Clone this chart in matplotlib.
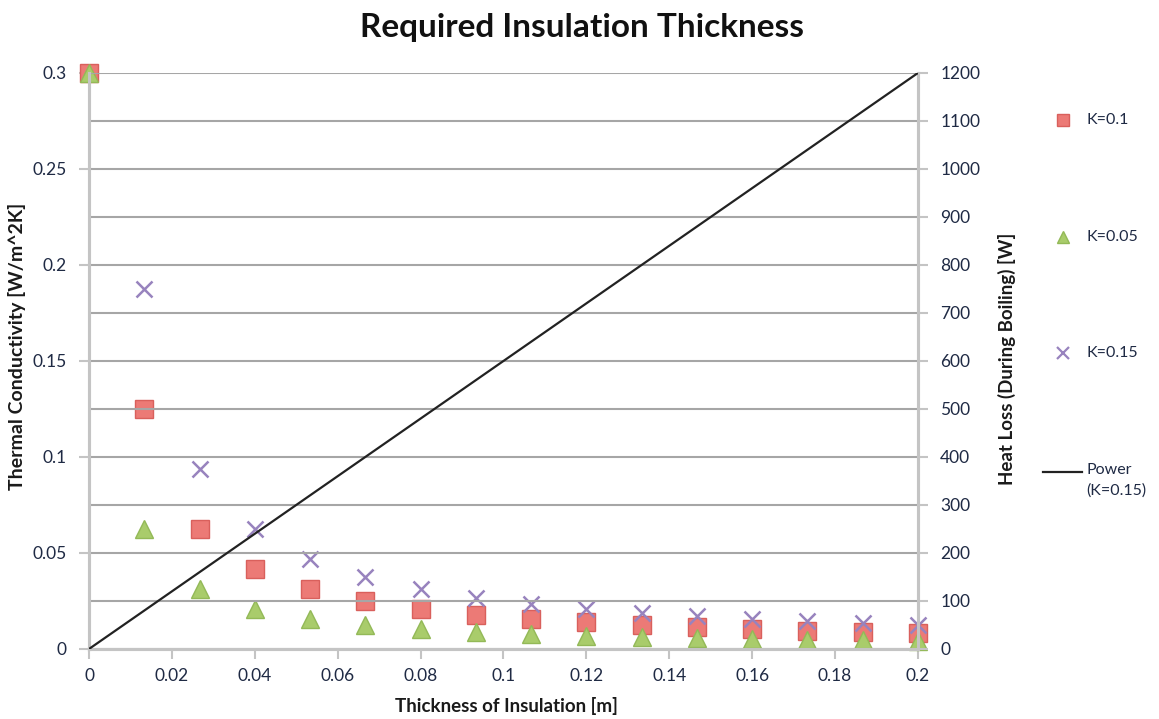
import matplotlib
matplotlib.use("Agg")
import matplotlib.pyplot as plt
from matplotlib.lines import Line2D

plt.rcParams['font.family'] = ['Lato', 'DejaVu Sans']

# Insulation thickness samples [m]
thickness = [0.0, 0.01333, 0.02667, 0.04, 0.05333, 0.06667, 0.08, 0.09333,
             0.10667, 0.12, 0.13333, 0.14667, 0.16, 0.17333, 0.18667, 0.2]

# Thermal conductivity readings [W/m^2K] per insulation material
k_010 = [0.3, 0.125, 0.0625, 0.0417, 0.03125, 0.025, 0.0208, 0.0179,
         0.0156, 0.0139, 0.0125, 0.0114, 0.0104, 0.0096, 0.0089, 0.0083]
k_005 = [0.3, 0.0625, 0.03125, 0.0208, 0.0156, 0.0125, 0.0104, 0.0089,
         0.0078, 0.0069, 0.00625, 0.0057, 0.0052, 0.0048, 0.0045, 0.0042]
k_015 = [float('nan'), 0.1875, 0.09375, 0.0625, 0.0469, 0.0375, 0.03125, 0.0268,
         0.0234, 0.0208, 0.01875, 0.0170, 0.0156, 0.0144, 0.0134, 0.0125]

# Heat loss trend (right axis) [W]
power_x = [0.0, 0.2]
power_y = [0.0, 1200.0]

x_ticks = [0, 0.02, 0.04, 0.06, 0.08, 0.1, 0.12, 0.14, 0.16, 0.18, 0.2]
x_ticklabels = ['0', '0.02', '0.04', '0.06', '0.08', '0.1', '0.12', '0.14', '0.16', '0.18', '0.2']
left_ticks = [0, 0.05, 0.1, 0.15, 0.2, 0.25, 0.3]
left_ticklabels = ['0', '0.05', '0.1', '0.15', '0.2', '0.25', '0.3']
right_ticks = list(range(0, 1201, 100))

legend_labels = ['K=0.1', 'K=0.05', 'K=0.15', 'Power\n(K=0.15)']

text_col = '#1a1a1a'
tick_col = '#1f2a44'
axis_gray = '#C4C4C4'
grid_gray = '#A6A6A6'

red_face, red_edge = '#EC7A76', '#D9605C'
green_face, green_edge = '#A9CC6B', '#93B957'
purple = '#9883BE'
line_col = '#222222'

fig = plt.figure(figsize=(11.59, 7.19), dpi=100)
ax = fig.add_axes([0.0768, 0.0974, 0.7152, 0.8011])
ax2 = ax.twinx()

ax.set_xlim(0, 0.2)
ax.set_ylim(0, 0.3)
ax2.set_ylim(0, 1200)

# horizontal gridlines follow the right axis
ax2.set_yticks(right_ticks)
ax2.grid(axis='y', color=grid_gray, linewidth=1.5, zorder=0)
ax.set_axisbelow(True)

ax.plot(thickness, k_010, linestyle='none', marker='s', markersize=13,
        markerfacecolor=red_face, markeredgecolor=red_edge, markeredgewidth=1.0,
        zorder=3, clip_on=False)
ax.plot(thickness, k_005, linestyle='none', marker='^', markersize=13,
        markerfacecolor=green_face, markeredgecolor=green_edge, markeredgewidth=1.0,
        zorder=4, clip_on=False)
ax.plot(thickness, k_015, linestyle='none', marker='x', markersize=12,
        markeredgecolor=purple, markeredgewidth=1.8,
        zorder=5, clip_on=False)

ax2.plot(power_x, power_y, color=line_col, linewidth=1.6, zorder=6)

# axes styling
for a in (ax, ax2):
    a.spines['top'].set_visible(False)
    for s in ('left', 'right', 'bottom'):
        a.spines[s].set_color(axis_gray)
        a.spines[s].set_linewidth(2.2)

ax.set_xticks(x_ticks)
ax.set_xticklabels(x_ticklabels)
ax.set_yticks(left_ticks)
ax.set_yticklabels(left_ticklabels)
ax.tick_params(axis='both', direction='out', length=7, width=1.5, color=axis_gray,
               labelsize=12.5, labelcolor=tick_col, pad=9)
ax.tick_params(axis='x', pad=7)
ax2.tick_params(axis='y', direction='out', length=7, width=1.5, color=axis_gray,
                labelsize=12.5, labelcolor=tick_col, pad=9)

ax.set_xlabel('Thickness of Insulation [m]', fontsize=13.5, color=text_col,
              fontweight='bold')
ax.xaxis.set_label_coords(0.503, -0.084)
ax.set_ylabel('Thermal Conductivity [W/m^2K]', fontsize=14, color=text_col,
              fontweight='bold')
ax.yaxis.set_label_coords(-0.076, 0.526)
ax2.set_ylabel('Heat Loss (During Boiling) [W]', fontsize=13.5, color=text_col,
               fontweight='bold', rotation=90)
ax2.yaxis.set_label_coords(1.0966, 0.503)

fig.suptitle('Required Insulation Thickness', fontsize=24, fontweight='bold',
             color='#111111', x=0.502, y=0.982)

# legend entries laid out down the right margin
H, W = 719.0, 1159.0
marker_x = 1063 / W
text_x = 1086 / W
entry_y = [120, 237, 353, 472]
handles = [
    dict(linestyle='none', marker='s', markersize=9,
         markerfacecolor=red_face, markeredgecolor=red_edge),
    dict(linestyle='none', marker='^', markersize=9,
         markerfacecolor=green_face, markeredgecolor=green_edge),
    dict(linestyle='none', marker='x', markersize=9,
         markeredgecolor=purple, markeredgewidth=1.6),
]
for i, (lbl, yp) in enumerate(zip(legend_labels, entry_y)):
    yf = 1 - yp / H
    if i < 3:
        fig.add_artist(Line2D([marker_x], [yf], transform=fig.transFigure, **handles[i]))
        fig.text(text_x, yf, lbl, fontsize=11.5, color=tick_col, va='center', ha='left')
    else:
        fig.add_artist(Line2D([1043 / W, 1082 / W], [yf, yf], transform=fig.transFigure,
                              color=line_col, linewidth=1.6))
        fig.text(text_x, yf + 9 / H, lbl, fontsize=11.5, color=tick_col, va='top',
                 ha='left', linespacing=1.6)

fig.savefig('out.png', dpi=100)
